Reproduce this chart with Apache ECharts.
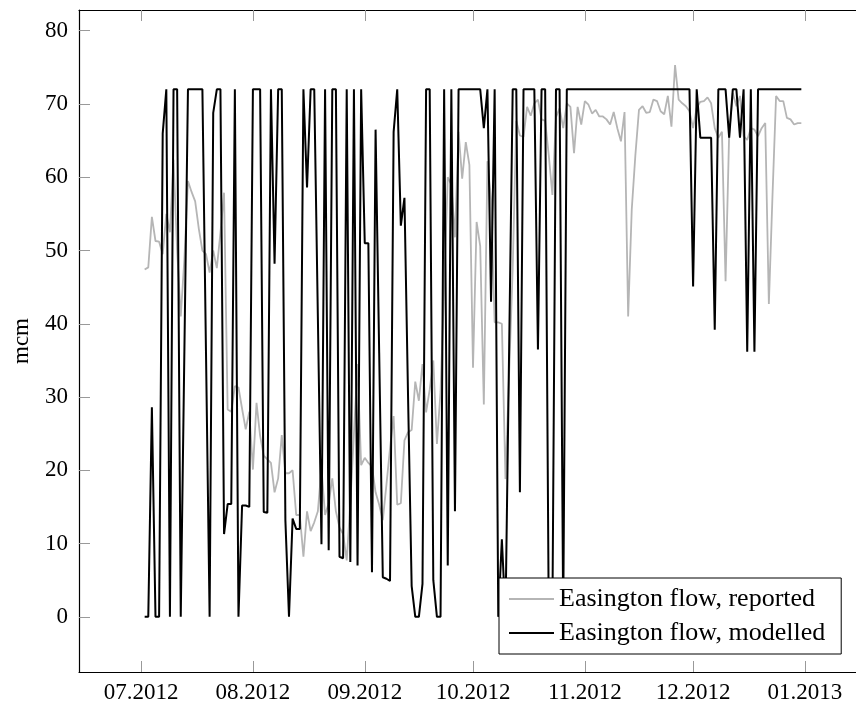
<!DOCTYPE html>
<html>
<head>
<meta charset="utf-8">
<script src="https://cdn.jsdelivr.net/npm/echarts@6/dist/echarts.min.js"></script>
<style>
  html, body { margin: 0; padding: 0; background: #fff; overflow: hidden; width: 856px; height: 704px; }
  #chart { width: 880px; height: 704px; }
</style>
</head>
<body>
<div id="chart"></div>
<script>
// Daily Easington gas flow (mcm), 2 Jul 2012 – 31 Dec 2012
const firstDay = '2012-07-02';
const lastDay = '2012-12-31';

const reported = [
  47.4, 47.7, 54.6, 51.3, 51.2, 49.5, 55.0, 52.5, 62.4, 50.0,
  41.0, 48.8, 59.5, 58.0, 56.7, 53.0, 50.0, 49.5, 47.0, 50.0,
  47.6, 52.4, 57.9, 28.3, 28.0, 31.5, 31.3, 28.4, 25.6, 28.0,
  20.1, 29.2, 24.7, 22.0, 21.5, 21.0, 17.0, 18.9, 24.8, 19.6,
  19.6, 20.0, 13.9, 13.9, 8.2, 14.4, 11.7, 12.9, 14.4, 20.3,
  13.9, 15.5, 18.9, 14.4, 12.2, 11.3, 7.7, 15.5, 25.0, 34.5,
  20.7, 21.7, 21.0, 20.5, 17.0, 15.3, 13.2, 18.0, 23.0, 27.4,
  15.3, 15.5, 24.1, 25.2, 25.5, 32.1, 29.5, 34.5, 27.9, 31.0,
  35.0, 23.6, 30.7, 45.0, 60.0, 59.0, 51.8, 66.2, 59.8, 64.8,
  61.7, 34.0, 53.9, 50.6, 29.0, 62.2, 57.0, 40.2, 40.2, 40.0,
  18.8, 33.0, 47.5, 67.7, 65.7, 65.5, 69.6, 68.4, 70.1, 70.6,
  67.9, 67.7, 63.0, 57.6, 68.2, 69.4, 66.7, 70.1, 69.6, 63.3,
  69.6, 67.2, 70.4, 69.9, 68.7, 69.2, 68.3, 68.3, 67.9, 67.2,
  68.9, 66.7, 64.9, 68.9, 41.0, 55.6, 63.0, 69.2, 69.7, 68.8,
  68.9, 70.6, 70.4, 69.0, 68.6, 71.1, 66.9, 75.3, 70.6, 70.1,
  69.7, 69.0, 66.7, 69.5, 70.3, 70.4, 70.9, 70.1, 66.7, 65.4,
  66.2, 45.8, 66.0, 71.5, 69.7, 71.1, 65.6, 65.1, 66.7, 66.5,
  65.6, 66.7, 67.4, 42.7, 57.4, 71.1, 70.4, 70.4, 68.1, 67.9,
  67.2, 67.4, 67.4
];

const modelled = [
  0, 0, 28.6, 0, 0, 66.0, 72, 0, 72, 72,
  0, 36.0, 72, 72, 72, 72, 72, 36.0, 0, 68.8,
  72, 72, 11.3, 15.4, 15.4, 72, 0, 15.2, 15.2, 15.0,
  72, 72, 72, 14.3, 14.2, 72, 48.2, 72, 72, 13.2,
  0, 13.4, 12.0, 12.0, 72, 58.6, 72, 72, 41.0, 9.9,
  72, 9.1, 72, 72, 8.2, 8.0, 72, 7.5, 72, 7.0,
  72, 51.0, 51.0, 6.1, 66.5, 36.0, 5.4, 5.2, 4.9, 66.2,
  72, 53.4, 57.2, 30.0, 4.2, 0, 0, 4.5, 72, 72,
  5.0, 0, 0, 72, 7.0, 72, 14.4, 72, 72, 72,
  72, 72, 72, 72, 66.7, 72, 43.0, 72, 0, 10.6,
  0, 36.0, 72, 72, 17.0, 72, 72, 72, 72, 36.5,
  72, 72, 0, 0, 72, 72, 0, 72, 72, 72,
  72, 72, 72, 72, 72, 72, 72, 72, 72, 72,
  72, 72, 72, 72, 72, 72, 72, 72, 72, 72,
  72, 72, 72, 72, 72, 72, 72, 72, 72, 72,
  72, 72, 45.1, 72, 65.4, 65.4, 65.4, 65.4, 39.2, 72,
  72, 72, 65.4, 72, 72, 65.4, 72, 36.2, 72, 36.2,
  72, 72, 72, 72, 72, 72, 72, 72, 72, 72,
  72, 72, 72
];

const seriesNames = ['Easington flow, reported', 'Easington flow, modelled'];
const monthTicks = ['2012-07-01', '2012-08-01', '2012-09-01', '2012-10-01', '2012-11-01', '2012-12-01', '2013-01-01'];
const monthLabels = ['07.2012', '08.2012', '09.2012', '10.2012', '11.2012', '12.2012', '01.2013'];
const yTicks = [0, 10, 20, 30, 40, 50, 60, 70, 80];
const yName = 'mcm';

const DAY = 86400000;
const toTime = s => Date.parse(s + 'T00:00:00Z');

// one timestamp per day, from the first to the last reading
const days = [];
for (let t = toTime(firstDay); t <= toTime(lastDay); t += DAY) days.push(t);

const tickTimes = monthTicks.map(toTime);
const labelFor = v => {
  const i = tickTimes.indexOf(v);
  return i >= 0 ? monthLabels[i] : '';
};

// axis limits padded by 10% of the data span on each side
const xSpan = days[days.length - 1] - days[0];
const xMin = days[0] - 0.1 * xSpan;
const xMax = days[days.length - 1] + 0.1 * xSpan;
const allVals = reported.concat(modelled);
const yLo = Math.min.apply(null, allVals), yHi = Math.max.apply(null, allVals);
const yMin = yLo - 0.1 * (yHi - yLo);
const yMax = yHi + 0.1 * (yHi - yLo);

const FONT = 'Liberation Serif';
const tickStyle = { show: true, inside: true, length: 11, lineStyle: { color: '#999', width: 1 } };
const lineAxis = { show: true, onZero: false, lineStyle: { color: '#000', width: 1.2 } };

const chart = echarts.init(document.getElementById('chart'), null, { renderer: 'canvas' });
chart.setOption({
  animation: false,
  backgroundColor: '#fff',
  grid: { left: 79, top: 10, width: 788, height: 663, containLabel: false },
  xAxis: [
    {
      type: 'value', position: 'bottom', min: xMin, max: xMax,
      axisLine: lineAxis,
      axisTick: Object.assign({ customValues: tickTimes }, tickStyle),
      axisLabel: {
        customValues: tickTimes, formatter: labelFor, margin: 9,
        fontFamily: FONT, fontSize: 23, color: '#000'
      },
      splitLine: { show: false }
    },
    {
      type: 'value', position: 'top', min: xMin, max: xMax,
      axisLine: lineAxis,
      axisTick: Object.assign({ customValues: tickTimes }, tickStyle),
      axisLabel: { show: false },
      splitLine: { show: false }
    }
  ],
  yAxis: [
    {
      type: 'value', position: 'left', min: yMin, max: yMax,
      name: yName, nameLocation: 'middle', nameGap: 46,
      nameTextStyle: { fontFamily: FONT, fontSize: 23, color: '#000' },
      axisLine: lineAxis,
      axisTick: Object.assign({ customValues: yTicks }, tickStyle),
      axisLabel: {
        customValues: yTicks, margin: 11,
        fontFamily: FONT, fontSize: 23, color: '#000'
      },
      splitLine: { show: false }
    },
    {
      type: 'value', position: 'right', min: yMin, max: yMax,
      axisLine: lineAxis,
      axisTick: Object.assign({ customValues: yTicks }, tickStyle),
      axisLabel: { show: false },
      splitLine: { show: false }
    }
  ],
  legend: {
    data: seriesNames,
    orient: 'vertical',
    left: 499, top: 578,
    icon: 'rect', itemWidth: 45, itemHeight: 2, itemGap: 8,
    padding: [8, 16, 8, 10],
    borderColor: '#000', borderWidth: 1, backgroundColor: '#fff',
    textStyle: { fontFamily: FONT, fontSize: 26, lineHeight: 25, color: '#000' }
  },
  series: [
    {
      name: seriesNames[0], type: 'line', xAxisIndex: 0, yAxisIndex: 0,
      symbol: 'none', color: '#b5b5b5',
      lineStyle: { color: '#b5b5b5', width: 1.8 },
      data: days.map((t, i) => [t, reported[i]])
    },
    {
      name: seriesNames[1], type: 'line', xAxisIndex: 0, yAxisIndex: 0,
      symbol: 'none', color: '#000',
      lineStyle: { color: '#000', width: 2 },
      data: days.map((t, i) => [t, modelled[i]])
    }
  ]
});
</script>
</body>
</html>
